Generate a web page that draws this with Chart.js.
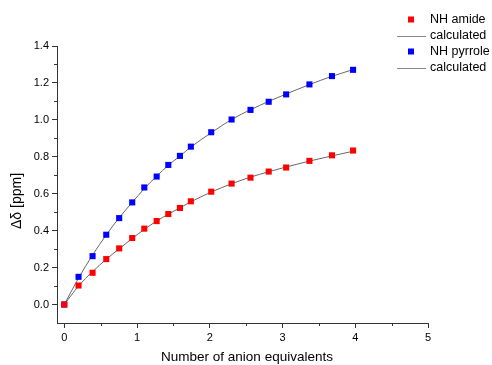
<!DOCTYPE html>
<html>
<head>
<meta charset="utf-8">
<style>
  html, body { margin: 0; padding: 0; background: #ffffff; }
  #wrap { position: relative; width: 492px; height: 365px; }
  canvas { display: block; }
</style>
<script src="https://cdn.jsdelivr.net/npm/chart.js@4/dist/chart.umd.min.js"></script>
</head>
<body>
<div id="wrap"><canvas id="chart" width="492" height="365"></canvas></div>
<script>
// Titration data: chemical shift change vs. added anion equivalents
const equivalents = [0, 0.196, 0.389, 0.577, 0.755, 0.934, 1.10, 1.27, 1.43, 1.59, 1.74, 2.02, 2.30, 2.56, 2.81, 3.05, 3.37, 3.68, 3.97];
const nhAmide     = [0, 0.103, 0.172, 0.246, 0.304, 0.360, 0.411, 0.452, 0.490, 0.523, 0.559, 0.611, 0.655, 0.687, 0.720, 0.742, 0.778, 0.808, 0.834];
const nhPyrrole   = [0, 0.150, 0.262, 0.378, 0.468, 0.553, 0.634, 0.693, 0.756, 0.805, 0.855, 0.933, 1.002, 1.054, 1.098, 1.138, 1.192, 1.237, 1.271];
const amideCalc   = [0, 0.100, 0.178, 0.245, 0.302, 0.358, 0.407, 0.452, 0.489, 0.524, 0.556, 0.609, 0.654, 0.690, 0.719, 0.745, 0.777, 0.805, 0.830];
const pyrroleCalc = [0, 0.143, 0.268, 0.377, 0.470, 0.553, 0.628, 0.695, 0.754, 0.804, 0.853, 0.930, 1.002, 1.055, 1.100, 1.140, 1.191, 1.236, 1.272];

// Axis ticks
const xTicks = [0, 1, 2, 3, 4, 5];
const yTicks = [0.0, 0.2, 0.4, 0.6, 0.8, 1.0, 1.2, 1.4];

// Axis titles and legend entries
const xTitle = 'Number of anion equivalents';
const yTitle = 'Δδ [ppm]';
const legendLabels = ['NH amide', 'calculated', 'NH pyrrole', 'calculated'];

const toXY = (xs, ys) => xs.map((x, i) => ({ x: x, y: ys[i] }));

const AXIS_COLOR = '#333333';
const FIT_COLOR = '#666666';
const FONT = "'Liberation Sans', Arial, sans-serif";

Chart.defaults.font.family = FONT;
Chart.defaults.color = '#000000';

// Minor ticks halfway between the major ticks, drawn outward
const minorTicks = {
  id: 'minorTicks',
  afterDraw(chart) {
    const ctx = chart.ctx;
    const xs = chart.scales.x, ys = chart.scales.y;
    ctx.save();
    ctx.strokeStyle = AXIS_COLOR;
    ctx.lineWidth = 1;
    ctx.beginPath();
    for (let i = 0; i < xTicks.length - 1; i++) {
      const px = Math.round(xs.getPixelForValue((xTicks[i] + xTicks[i + 1]) / 2)) + 0.5;
      ctx.moveTo(px, xs.top);
      ctx.lineTo(px, xs.top + 3);
    }
    for (let i = 0; i < yTicks.length - 1; i++) {
      const py = Math.round(ys.getPixelForValue((yTicks[i] + yTicks[i + 1]) / 2)) + 0.5;
      ctx.moveTo(ys.right, py);
      ctx.lineTo(ys.right - 3, py);
    }
    ctx.stroke();
    ctx.restore();
  }
};

// Axis titles, placed below / left of the axes
const axisTitles = {
  id: 'axisTitles',
  afterDraw(chart) {
    const ctx = chart.ctx;
    ctx.save();
    ctx.fillStyle = '#000000';
    ctx.textAlign = 'center';
    ctx.textBaseline = 'middle';
    ctx.font = '13.5px ' + FONT;
    ctx.fillText(xTitle, 247, 357);
    ctx.translate(17, 201);
    ctx.rotate(-Math.PI / 2);
    ctx.font = '14px ' + FONT;
    ctx.fillText(yTitle, 0, 0);
    ctx.restore();
  }
};

// Legend block at the top right
const sideLegend = {
  id: 'sideLegend',
  afterDraw(chart) {
    const ctx = chart.ctx;
    const ds = chart.data.datasets;
    const rows = [19.5, 35.5, 51.5, 68];
    ctx.save();
    ctx.font = '12.5px ' + FONT;
    ctx.textBaseline = 'middle';
    ctx.textAlign = 'left';
    ds.forEach((d, r) => {
      const y = rows[r];
      if (d.showLine) {
        ctx.strokeStyle = '#8a8a8a';
        ctx.lineWidth = 1;
        ctx.beginPath();
        ctx.moveTo(397, Math.round(y) + 0.5);
        ctx.lineTo(426, Math.round(y) + 0.5);
        ctx.stroke();
      } else {
        ctx.fillStyle = d.backgroundColor;
        ctx.fillRect(408, y - 3, 6, 6);
      }
      ctx.fillStyle = '#000000';
      ctx.fillText(legendLabels[r], 430, y);
    });
    ctx.restore();
  }
};

new Chart(document.getElementById('chart'), {
  type: 'scatter',
  data: {
    datasets: [
      { label: legendLabels[0], data: toXY(equivalents, nhAmide), backgroundColor: '#ff0000', borderWidth: 0,
        pointStyle: 'rect', pointRadius: 4.3, showLine: false, order: 0 },
      { label: legendLabels[1], data: toXY(equivalents, amideCalc), borderColor: FIT_COLOR, borderWidth: 1,
        pointRadius: 0, showLine: true, cubicInterpolationMode: 'monotone', order: 1 },
      { label: legendLabels[2], data: toXY(equivalents, nhPyrrole), backgroundColor: '#0000ff', borderWidth: 0,
        pointStyle: 'rect', pointRadius: 4.3, showLine: false, order: 0 },
      { label: legendLabels[3], data: toXY(equivalents, pyrroleCalc), borderColor: FIT_COLOR, borderWidth: 1,
        pointRadius: 0, showLine: true, cubicInterpolationMode: 'monotone', order: 1 }
    ]
  },
  options: {
    responsive: false,
    animation: false,
    devicePixelRatio: 1,
    layout: { padding: { left: 0, top: 46, right: 64, bottom: 0 } },
    plugins: { legend: { display: false }, tooltip: { enabled: false } },
    scales: {
      x: {
        type: 'linear',
        min: -0.1, max: 5,
        afterBuildTicks(scale) { scale.ticks = xTicks.map(v => ({ value: v })); },
        afterFit(scale) { scale.height = 42; },
        border: { display: true, color: AXIS_COLOR, width: 1 },
        grid: { display: true, drawOnChartArea: false, drawTicks: true, tickLength: 5, color: AXIS_COLOR },
        ticks: { font: { size: 11 }, color: '#000000', padding: 3, maxRotation: 0,
                 callback: v => String(v) },
        title: { display: false }
      },
      y: {
        type: 'linear',
        min: -0.1, max: 1.4,
        afterBuildTicks(scale) { scale.ticks = yTicks.map(v => ({ value: v })); },
        afterFit(scale) { scale.width = 57; },
        border: { display: true, color: AXIS_COLOR, width: 1 },
        grid: { display: true, drawOnChartArea: false, drawTicks: true, tickLength: 5, color: AXIS_COLOR },
        ticks: { font: { size: 11 }, color: '#000000', padding: 3,
                 callback: v => Number(v).toFixed(1) },
        title: { display: false }
      }
    }
  },
  plugins: [minorTicks, axisTitles, sideLegend]
});
</script>
</body>
</html>
